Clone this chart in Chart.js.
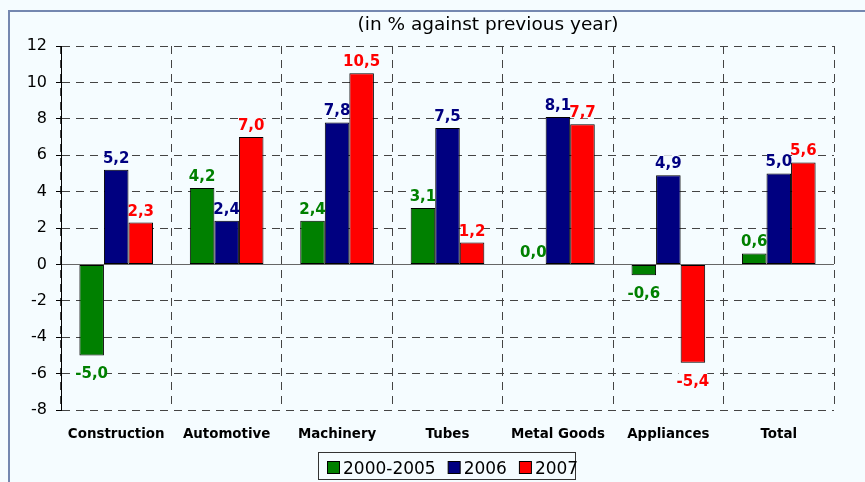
<!DOCTYPE html>
<html>
<head>
<meta charset="utf-8">
<script src="https://cdn.jsdelivr.net/npm/chart.js@4.4.1/dist/chart.umd.min.js"></script>
<style>
  html, body { margin: 0; padding: 0; background: #f5fcff; }
  #contenedor { width: 865px; height: 482px; }
  canvas { display: block; }
</style>
</head>
<body>
<div id="contenedor"><canvas id="grafica"></canvas></div>
<script>
// datos de la grafica
const categorias = ['Construction', 'Automotive', 'Machinery', 'Tubes', 'Metal Goods', 'Appliances', 'Total'];
const series = ['2000-2005', '2006', '2007'];
const valores2000_2005 = [-5.0, 4.2, 2.4, 3.1, 0.0, -0.6, 0.6];
const valores2006 = [5.2, 2.4, 7.8, 7.5, 8.1, 4.9, 5.0];
const valores2007 = [2.3, 7.0, 10.5, 1.2, 7.7, -5.4, 5.6];
const ticksY = [-8, -6, -4, -2, 0, 2, 4, 6, 8, 10, 12];
const titulo = '(in % against previous year)';

const colores = ['#008000', '#000080', '#ff0000'];
const fondo = '#f5fcff';
const fuente = '"DejaVu Sans", sans-serif';

// fondo y marco
const marco = {
  id: 'marco',
  beforeDraw(chart) {
    const ctx = chart.ctx;
    ctx.save();
    ctx.fillStyle = fondo;
    ctx.fillRect(0, 0, chart.width, chart.height);
    ctx.strokeStyle = '#7487b0';
    ctx.lineWidth = 2;
    ctx.strokeRect(9, 11, chart.width + 20, chart.height + 20);
    ctx.restore();
  }
};

// etiquetas de valores, titulo, categorias y leyenda
const textos = {
  id: 'textos',
  afterDatasetsDraw(chart) {
    const ctx = chart.ctx;
    ctx.save();
    ctx.font = 'bold 15px ' + fuente;
    ctx.textAlign = 'center';
    ctx.textBaseline = 'alphabetic';
    chart.data.datasets.forEach((ds, i) => {
      chart.getDatasetMeta(i).data.forEach((bar, j) => {
        const v = ds.data[j];
        const txt = v.toFixed(1).replace('.', ',');
        const w = ctx.measureText(txt).width - 4;
        const base = v >= 0 ? bar.y - 7 : bar.y + 23;
        ctx.fillStyle = fondo;
        ctx.fillRect(bar.x - w / 2, base - 13, w, 14);
        ctx.fillStyle = colores[i];
        ctx.fillText(txt, bar.x, base);
      });
    });
    ctx.restore();
  },
  afterDraw(chart) {
    const ctx = chart.ctx;
    const x = chart.scales.x;
    ctx.save();
    // titulo
    ctx.fillStyle = '#000';
    ctx.font = '18.5px ' + fuente;
    ctx.textAlign = 'center';
    ctx.fillText(titulo, 488, 30);
    // categorias
    ctx.font = 'bold 13.4px ' + fuente;
    categorias.forEach((c, i) => {
      ctx.fillText(c, x.getPixelForValue(i), 438);
    });
    // leyenda
    ctx.font = '17px ' + fuente;
    ctx.textAlign = 'left';
    ctx.strokeStyle = '#333';
    ctx.lineWidth = 1;
    ctx.fillStyle = fondo;
    ctx.fillRect(318.5, 452.5, 257, 27);
    ctx.strokeRect(318.5, 452.5, 257, 27);
    let px = 327;
    series.forEach((s, i) => {
      ctx.fillStyle = colores[i];
      ctx.fillRect(px + 0.5, 461.5, 12, 12);
      ctx.strokeStyle = '#000';
      ctx.strokeRect(px + 0.5, 461.5, 12, 12);
      ctx.fillStyle = '#000';
      ctx.fillText(s, px + 16, 474);
      px += 16 + ctx.measureText(s).width + 12;
    });
    ctx.restore();
  }
};

new Chart(document.getElementById('grafica'), {
  type: 'bar',
  data: {
    labels: categorias,
    datasets: [valores2000_2005, valores2006, valores2007].map((d, i) => ({
      label: series[i],
      data: d,
      backgroundColor: colores[i],
      borderColor: '#000',
      borderWidth: 1,
      borderSkipped: false,
      categoryPercentage: 0.667,
      barPercentage: 1.0
    }))
  },
  options: {
    responsive: true,
    maintainAspectRatio: false,
    devicePixelRatio: 1,
    animation: false,
    layout: { padding: { top: 46, right: 31, left: 0, bottom: 0 } },
    plugins: {
      legend: { display: false },
      title: { display: false },
      tooltip: { enabled: false }
    },
    scales: {
      x: {
        afterFit: s => { s.height = 72; },
        ticks: { display: false },
        grid: { offset: true, drawTicks: false, color: '#444', lineWidth: 1 },
        border: { display: false, dash: [8, 6] }
      },
      y: {
        min: -8,
        max: 12,
        afterFit: s => { s.width = 61; },
        afterBuildTicks: s => { s.ticks = ticksY.map(v => ({ value: v })); },
        ticks: {
          padding: 9,
          color: '#000',
          font: { family: fuente, size: 16 }
        },
        grid: {
          color: c => (c.tick && c.tick.value === 0) ? '#666' : '#444',
          lineWidth: 1,
          tickLength: 5,
          tickColor: '#000',
          tickBorderDash: []
        },
        border: {
          display: true,
          color: '#000',
          width: 1,
          dash: c => (c.tick && c.tick.value === 0) ? [] : [8, 6]
        }
      }
    }
  },
  plugins: [marco, textos]
});
</script>
</body>
</html>
